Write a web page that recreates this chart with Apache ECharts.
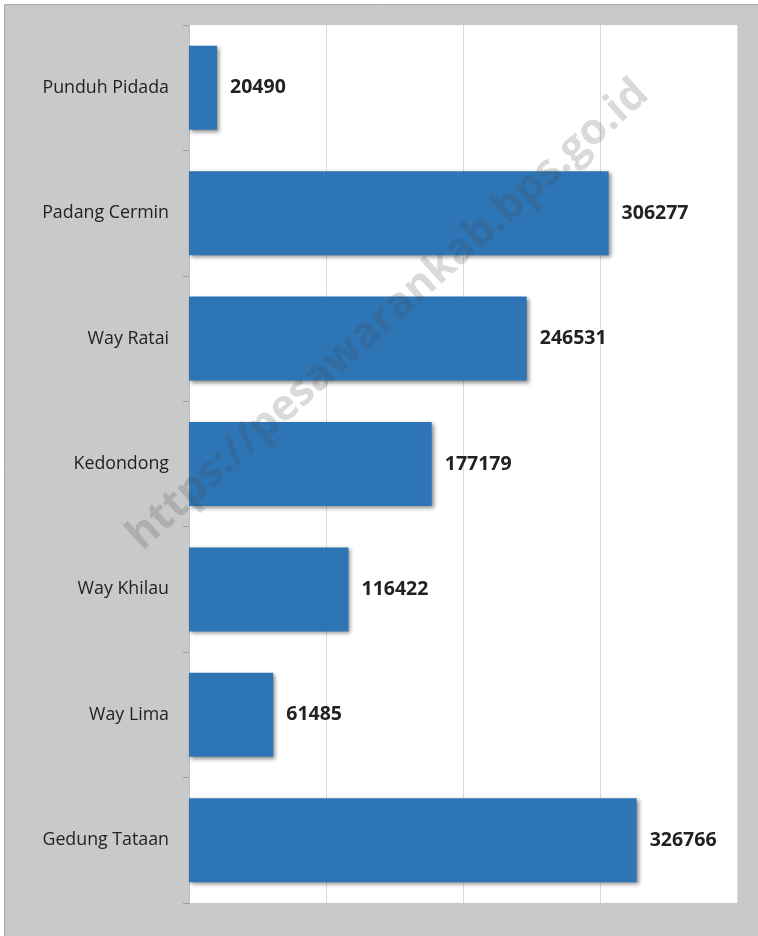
<!DOCTYPE html>
<html>
<head>
<meta charset="utf-8">
<script src="https://cdn.jsdelivr.net/npm/echarts@6/dist/echarts.min.js"></script>
<style>
html,body{margin:0;padding:0;background:#fff;}
#c{width:758px;height:936px;}
</style>
</head>
<body>
<div id="c"></div>
<script>
const categories = ["Punduh Pidada","Padang Cermin","Way Ratai","Kedondong","Way Khilau","Way Lima","Gedung Tataan"];
const values = [20490,306277,246531,177179,116422,61485,326766];
const watermark = "https://pesawarankab.bps.go.id";

const chart = echarts.init(document.getElementById('c'));
chart.setOption({
  animation:false,
  backgroundColor:'#ffffff',
  graphic:[
    {type:'rect', z:-10, silent:true, shape:{x:4.5,y:4.5,width:780,height:960},
     style:{fill:'#c8c9cb', stroke:'#a9aaac', lineWidth:1}},
    {type:'rect', z:-9, silent:true, shape:{x:189,y:25,width:548,height:878}, style:{fill:'#ffffff'}},
    {type:'text', z:100, silent:true, x:388, y:315, rotation:41.8*Math.PI/180,
     style:{text:watermark, fill:'rgba(70,70,70,0.2)', font:'bold 43px "Open Sans", sans-serif',
       align:'center', verticalAlign:'middle'}}
  ],
  grid:{left:189, right:21, top:25, bottom:33, containLabel:false},
  xAxis:{type:'value', min:0, max:400000, interval:100000,
    axisLabel:{show:false}, axisTick:{show:false}, axisLine:{show:false},
    splitLine:{show:true, lineStyle:{color:'#d9d9d9', width:1}}},
  yAxis:{type:'category', data:categories, inverse:true,
    axisLine:{show:true, lineStyle:{color:'#bfbfbf'}},
    axisTick:{show:true, inside:false, length:6, lineStyle:{color:'#a0a0a0'}},
    axisLabel:{margin:20, color:'#222', fontSize:17.8, fontFamily:'"Open Sans", sans-serif', padding:[4,0,0,0]}},
  series:[{type:'bar', data:values, barWidth:84,
    itemStyle:{color:'#2e75b6', shadowColor:'rgba(0,0,0,0.45)', shadowBlur:4, shadowOffsetX:2, shadowOffsetY:2},
    label:{show:true, position:'right', distance:13, color:'#222', fontSize:19.5, fontWeight:'bold',
      fontFamily:'"Open Sans", sans-serif', padding:[5,0,0,0]}}]
});
</script>
</body>
</html>
